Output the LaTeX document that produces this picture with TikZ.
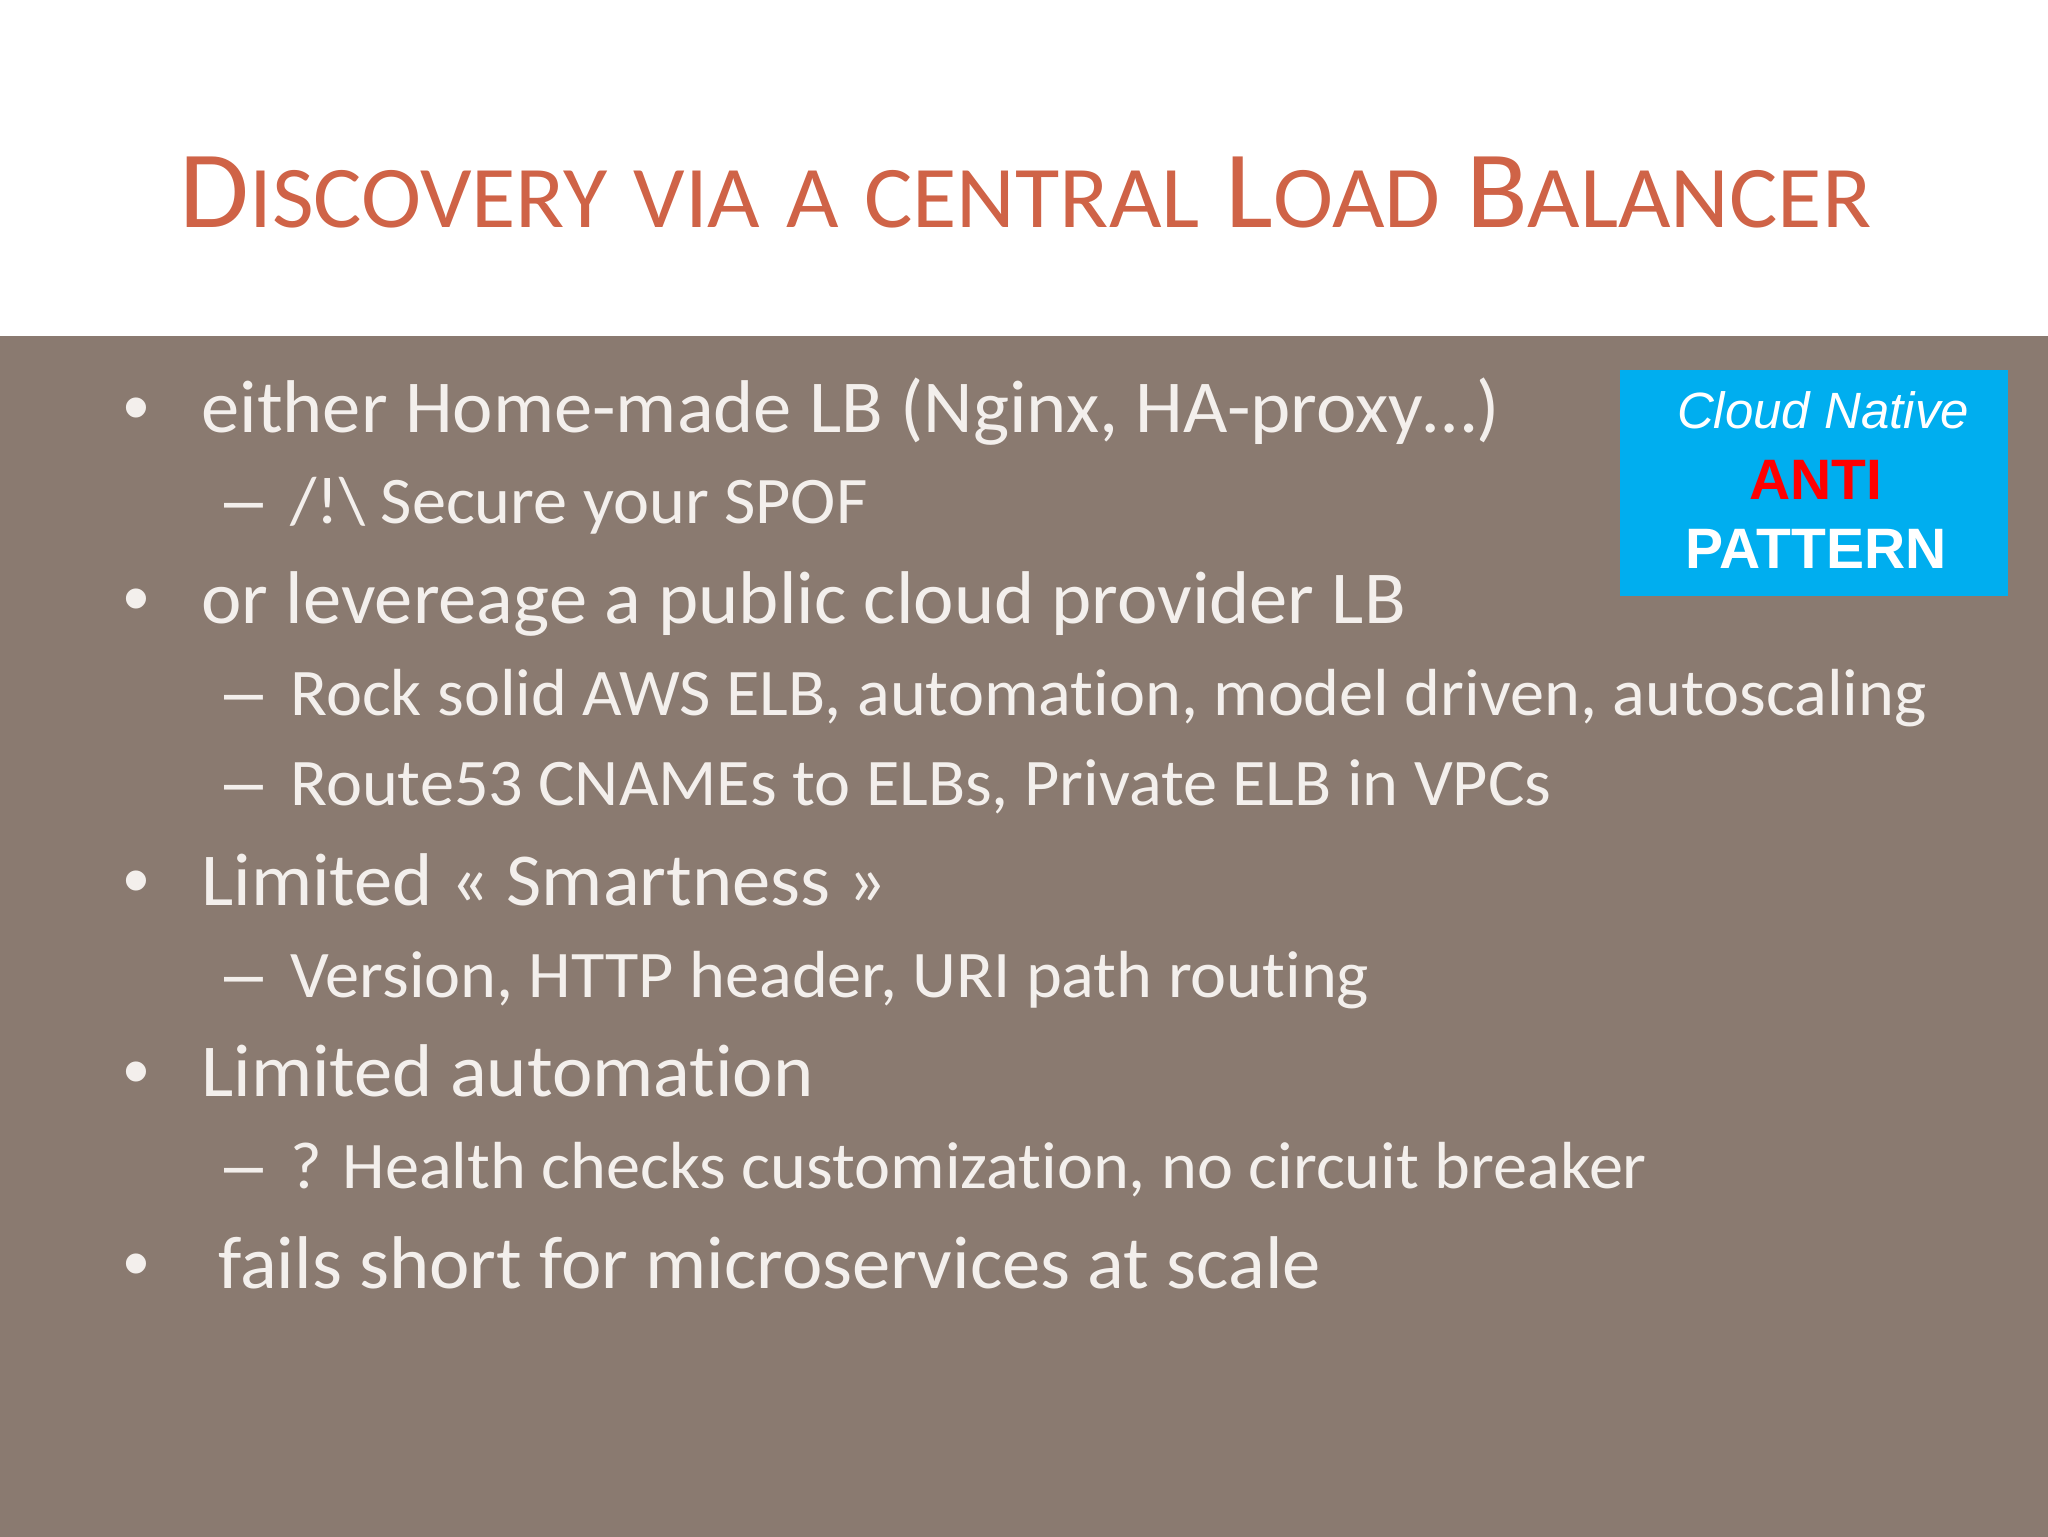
\documentclass[tikz,border=0pt]{standalone}
\usepackage{fontspec}
\setmainfont{Carlito}[Ligatures=NoCommon,FakeStretch=1.025]
\newfontfamily\titlefont{Carlito}[Ligatures=NoCommon,FakeStretch=1.031]
\newfontfamily\arialfont{Liberation Sans}
\usetikzlibrary{positioning}

\definecolor{slidebrown}{HTML}{8A7A70}
\definecolor{titlered}{HTML}{CF6347}
\definecolor{bodywhite}{HTML}{F3EFEC}
\definecolor{badgeblue}{HTML}{00AEEF}

\newcommand{\bigcaps}[1]{{\fontsize{55}{60}\selectfont #1}}

\tikzstyle{slideband} = [anchor=north west,inner sep=0pt,fill=slidebrown,minimum width=1026pt,minimum height=602pt]
\tikzstyle{slidetitle} = [anchor=base west,inner sep=0pt,text=titlered,font=\titlefont\fontsize{44}{50}\selectfont]
\tikzstyle{topitem} = [anchor=base west,inner sep=0pt,text=bodywhite,font=\fontsize{37.35}{44}\selectfont]
\tikzstyle{subitem} = [anchor=base west,inner sep=0pt,text=bodywhite,font=\fontsize{33.3}{38}\selectfont]
\tikzstyle{topmark} = [anchor=base west,inner sep=0pt,text=bodywhite,font=\arialfont\fontsize{37}{44}\selectfont]
\tikzstyle{submark} = [anchor=base west,inner sep=0pt,text=bodywhite,font=\arialfont\fontsize{35}{38}\selectfont]
\tikzstyle{badge} = [anchor=north west,inner sep=0pt,fill=badgeblue,minimum width=194pt,minimum height=113pt]
\tikzstyle{badgetext} = [anchor=base,inner sep=0pt,text=white]

\begin{document}
\begin{tikzpicture}[x=0.5pt,y=-0.5pt]
    \useasboundingbox (0,0) rectangle (2048,1536);
    \fill[white] (0,0) rectangle (2048,1536);
    \node[slideband] (band) at (0,336) {};

    \node[slidetitle] (title) at (179,227) {\bigcaps{D}ISCOVERY\bigcaps{~}VIA\bigcaps{~}A\bigcaps{~}CENTRAL\bigcaps{~}\bigcaps{L}OAD\bigcaps{~}\bigcaps{B}ALANCER};

    %first level
    \foreach \nodename/\x/\y/\content in {
      either/201/432/{either Home-made LB (Nginx, HA-proxy…)},
      cloud/201/623/{or levereage a public cloud provider LB},
      smart/201/905/{Limited « Smartness »},
      auto/201/1096/{Limited automation},
      fails/218/1288/{fails short for microservices at scale}}
    {
      \node[topitem] (\nodename) at (\x,\y) {\content};
      \node[topmark] (\nodename mark) at (123,\y) {•};
    }

    %second level
    \foreach \nodename/\y/\content in {
      spof/523/{/!\textbackslash{} Secure your SPOF},
      elb/715/{Rock solid AWS ELB, automation, model driven, autoscaling},
      route/805/{Route53 CNAMEs to ELBs, Private ELB in VPCs},
      version/997/{Version, HTTP header, URI path routing},
      health/1188/{? Health checks customization, no circuit breaker}}
    {
      \node[subitem] (\nodename) at (290,\y) {\content};
      \node[submark] (\nodename mark) at (224,\y) {–};
    }

    \node[badge] (badge) at (1620,370) {};
    \node[badgetext,font=\arialfont\itshape\fontsize{25.5}{30}\selectfont] (native) at (1823,428) {Cloud Native};
    \node[badgetext,font=\arialfont\bfseries\fontsize{28.5}{34}\selectfont,text=red] (anti) at (1816,499) {ANTI};
    \node[badgetext,font=\arialfont\bfseries\fontsize{28.5}{34}\selectfont] (pattern) at (1816,568) {PATTERN};
\end{tikzpicture}
\end{document}
